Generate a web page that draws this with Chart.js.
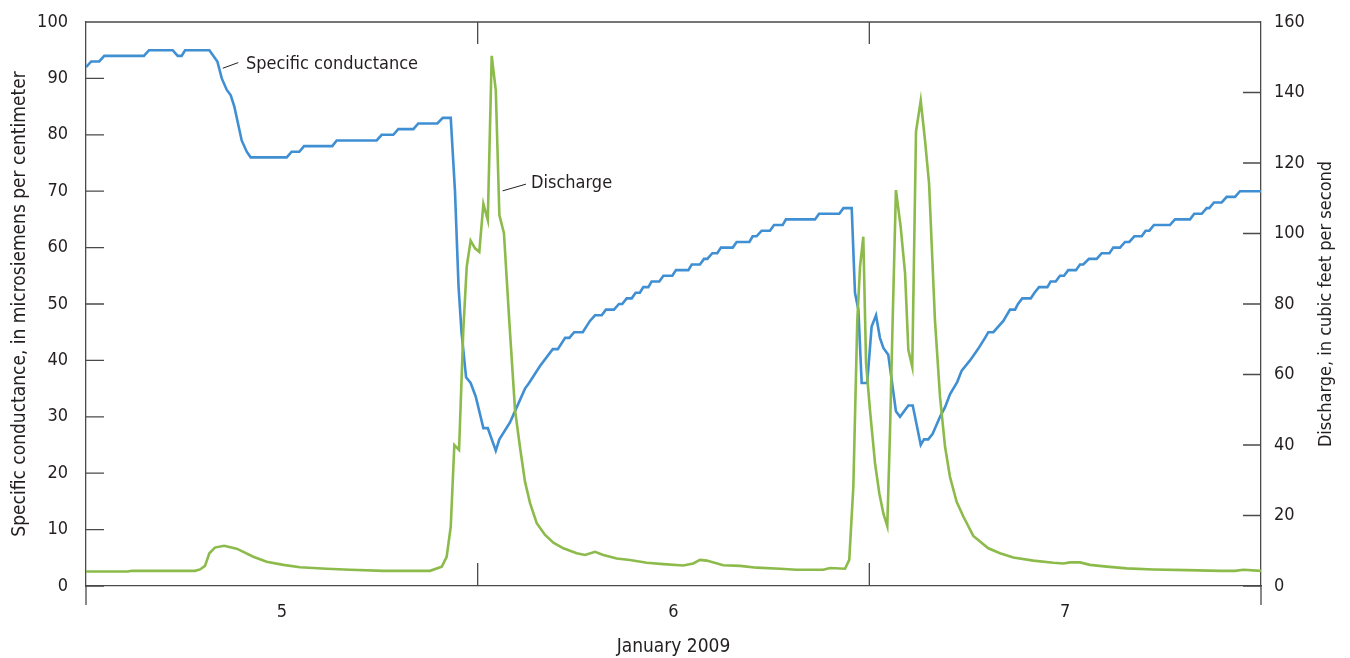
<!DOCTYPE html>
<html>
<head>
<meta charset="utf-8">
<script src="https://cdn.jsdelivr.net/npm/chart.js@4.4.1/dist/chart.umd.min.js"></script>
<style>
  html, body { margin: 0; padding: 0; background: #fff; }
  #wrap { width: 1350px; height: 658px; position: relative; }
</style>
</head>
<body>
<div id="wrap"><canvas id="chart"></canvas></div>
<script>
// hours since January 5, 2009 00:00
const condHours = [
  0.0, 0.32, 0.81, 1.12, 3.55, 3.86, 5.31, 5.62, 5.86, 6.07, 7.56, 8.05, 8.32, 8.62, 8.87, 9.09,
  9.54, 9.85, 10.09, 12.30, 12.60, 13.07, 13.36, 15.09, 15.36, 17.81, 18.12, 18.83, 19.14, 20.06,
  20.36, 21.53, 21.86, 22.35, 22.61, 22.83, 23.01, 23.29, 23.57, 23.88, 24.35, 24.62, 25.11, 25.33,
  25.98, 26.18, 26.90, 27.15, 27.82, 28.60, 28.91, 29.36, 29.62, 29.91, 30.44, 30.88, 31.19, 31.60,
  31.86, 32.35, 32.66, 32.86, 33.13, 33.44, 33.68, 33.94, 34.15, 34.46, 34.66, 35.13, 35.38, 35.93,
  36.15, 36.91, 37.12, 37.62, 37.87, 38.07, 38.38, 38.68, 38.91, 39.63, 39.87, 40.65, 40.85, 41.09,
  41.40, 41.91, 42.16, 42.69, 42.89, 44.67, 44.92, 46.16, 46.41, 46.92, 47.12, 47.33, 47.53, 47.87,
  48.14, 48.41, 48.65, 48.86, 49.16, 49.63, 49.88, 50.39, 50.66, 51.15, 51.35, 51.61, 51.88, 52.33,
  52.64, 52.94, 53.39, 53.66, 54.17, 54.66, 55.09, 55.29, 55.60, 56.21, 56.62, 56.93, 57.11, 57.37,
  57.89, 58.12, 58.40, 58.91, 59.11, 59.42, 59.68, 59.93, 60.19, 60.66, 60.91, 61.11, 61.46, 61.93,
  62.24, 62.71, 62.95, 63.36, 63.67, 63.93, 64.24, 64.69, 64.93, 65.16, 65.44, 66.42, 66.73, 67.65,
  67.91, 68.37, 68.67, 68.83, 69.12, 69.59, 69.90, 70.41, 70.71, 72.0
];
const condValues = [
  92, 93, 93, 94, 94, 95, 95, 94, 94, 95, 95, 93, 90, 88, 87, 85,
  79, 77, 76, 76, 77, 77, 78, 78, 79, 79, 80, 80, 81, 81,
  82, 82, 83, 83, 70, 53, 45, 37, 36, 33.6, 28, 28, 24, 26,
  29, 30.3, 35, 36, 39, 42, 42, 44, 44, 45, 45, 47, 48, 48,
  49, 49, 50, 50, 51, 51, 52, 52, 53, 53, 54, 54, 55, 55,
  56, 56, 57, 57, 58, 58, 59, 59, 60, 60, 61, 61, 62, 62,
  63, 63, 64, 64, 65, 65, 66, 66, 67, 67, 52, 49, 36, 36,
  46, 48, 44, 42.2, 41, 31, 30, 32, 32, 25, 26, 26, 27, 30,
  31.7, 34, 36.2, 38.2, 40, 42, 44, 45, 45, 47, 49, 49, 50, 51,
  51, 52, 53, 53, 54, 54, 55, 55, 56, 56, 57, 57, 58, 58,
  59, 59, 60, 60, 61, 61, 62, 62, 63, 63, 64, 64, 65, 65,
  66, 66, 67, 67, 68, 68, 69, 69, 70, 70
];

const flowHours = [
  0.0, 2.57, 2.82, 6.68, 6.99, 7.29, 7.56, 7.90, 8.46, 9.23, 9.64, 10.25, 11.07, 12.09, 13.11, 14.75,
  16.18, 18.22, 21.08, 21.80, 22.10, 22.35, 22.57, 22.86, 23.12, 23.33, 23.57, 23.84, 24.10, 24.35,
  24.62, 24.86, 25.11, 25.33, 25.61, 25.94, 26.29, 26.59, 26.90, 27.21, 27.62, 28.13, 28.64, 29.25,
  30.07, 30.58, 31.19, 31.70, 32.52, 33.33, 34.36, 35.38, 36.60, 37.21, 37.62, 38.03, 39.05, 40.08,
  41.10, 42.53, 43.55, 45.18, 45.59, 46.51, 46.77, 47.02, 47.26, 47.43, 47.63, 47.80, 48.04, 48.35,
  48.61, 48.86, 49.10, 49.27, 49.43, 49.63, 49.92, 50.19, 50.39, 50.63, 50.86, 51.15, 51.41, 51.66,
  52.02, 52.33, 52.64, 52.94, 53.35, 53.76, 54.37, 55.29, 56.01, 56.82, 58.05, 59.27, 59.89, 60.30,
  60.91, 61.52, 62.55, 63.77, 65.40, 67.45, 69.49, 70.41, 70.92, 72.0
];
const flowValues = [
  4.1, 4.1, 4.3, 4.3, 4.7, 5.7, 9.3, 10.9, 11.4, 10.6, 9.7, 8.3, 6.9, 6.0, 5.3, 4.9,
  4.6, 4.3, 4.3, 5.5, 8.3, 16.8, 40, 38.6, 72.6, 90.6, 98, 95.8, 94.8, 108.4,
  103.8, 150.4, 140.7, 105.2, 100.1, 75, 49.9, 39.5, 29.6, 23.5, 17.8, 14.5, 12.3, 10.7,
  9.3, 8.8, 9.7, 8.8, 7.8, 7.4, 6.6, 6.2, 5.8, 6.4, 7.4, 7.2, 5.9, 5.7,
  5.2, 4.9, 4.6, 4.6, 5.1, 4.9, 7.4, 28.2, 75, 90.6, 99.1, 63.2, 49.9, 34.8,
  26.3, 20.6, 17, 44.3, 75.5, 112.3, 101.9, 88.7, 67, 62.2, 128.9, 137.7, 126.5, 114.2,
  75.5, 53.7, 39.5, 31, 23.9, 19.7, 14.2, 10.7, 9.3, 8.1, 7.2, 6.6, 6.4, 6.7,
  6.7, 6.0, 5.5, 5.0, 4.7, 4.5, 4.3, 4.3, 4.6, 4.3
];

const dayLabels = ["5", "6", "7"];
const dayLabelHours = [12, 36, 60];
const dayBoundaryHours = [24, 48];

const BLUE = "#3f8fd2";
const GREEN = "#8cbb4b";
const AXIS_COLOR = "#4a4a4a";
const TEXT_COLOR = "#231f20";
const FONT_FAMILY = "'Liberation Sans Narrow', 'DejaVu Sans Condensed', 'Roboto', sans-serif";

const toPoints = (xs, ys) => xs.map((x, i) => ({ x: x, y: ys[i] }));

// y axes should not push the plot down for their half-height end labels
const fixAxisWidth = (width) => (scale) => {
  scale.width = width;
  scale.paddingTop = 0;
  scale.paddingBottom = 0;
};

const framePlugin = {
  id: "framePlugin",
  afterDraw: (chart) => {
    const ctx = chart.ctx;
    const area = chart.chartArea;
    const x = chart.scales.x;
    const yL = chart.scales.y;
    const yR = chart.scales.y1;

    ctx.save();
    ctx.strokeStyle = AXIS_COLOR;
    ctx.lineWidth = 1.3;
    ctx.beginPath();
    // top of the box
    ctx.moveTo(area.left, area.top);
    ctx.lineTo(area.right, area.top);
    // axis lines run past the bottom
    ctx.moveTo(area.left, area.bottom);
    ctx.lineTo(area.left, area.bottom + 19);
    ctx.moveTo(area.right, area.bottom);
    ctx.lineTo(area.right, area.bottom + 19);
    // inward ticks
    yL.ticks.forEach((t) => {
      const py = yL.getPixelForValue(t.value);
      ctx.moveTo(area.left, py);
      ctx.lineTo(area.left + 18, py);
    });
    yR.ticks.forEach((t) => {
      const py = yR.getPixelForValue(t.value);
      ctx.moveTo(area.right - 18, py);
      ctx.lineTo(area.right, py);
    });
    dayBoundaryHours.forEach((h) => {
      const px = x.getPixelForValue(h);
      ctx.moveTo(px, area.top);
      ctx.lineTo(px, area.top + 22);
      ctx.moveTo(px, area.bottom - 23);
      ctx.lineTo(px, area.bottom);
    });
    ctx.stroke();

    // labels on the lines
    ctx.lineWidth = 1;
    ctx.strokeStyle = "#231f20";
    ctx.beginPath();
    ctx.moveTo(x.getPixelForValue(8.38), yL.getPixelForValue(91.8));
    ctx.lineTo(x.getPixelForValue(9.33), yL.getPixelForValue(92.8));
    ctx.moveTo(x.getPixelForValue(25.53), yR.getPixelForValue(112.1));
    ctx.lineTo(x.getPixelForValue(26.96), yR.getPixelForValue(114));
    ctx.stroke();

    ctx.fillStyle = TEXT_COLOR;
    ctx.font = "18px " + FONT_FAMILY;
    ctx.textAlign = "left";
    ctx.textBaseline = "middle";
    ctx.fillText("Specific conductance", x.getPixelForValue(9.8), yL.getPixelForValue(92.5));
    ctx.fillText("Discharge", x.getPixelForValue(27.27), yR.getPixelForValue(114.3));

    // right axis title reads bottom to top
    ctx.translate(1326, (area.top + area.bottom) / 2);
    ctx.rotate(-Math.PI / 2);
    ctx.textAlign = "center";
    ctx.fillText("Discharge, in cubic feet per second", 0, 0);
    ctx.restore();
  },
};

new Chart(document.getElementById("chart"), {
  type: "line",
  data: {
    datasets: [
      {
        label: "Discharge",
        data: toPoints(flowHours, flowValues),
        yAxisID: "y1",
        borderColor: GREEN,
        borderWidth: 2.6,
        pointRadius: 0,
        tension: 0,
      },
      {
        label: "Specific conductance",
        data: toPoints(condHours, condValues),
        yAxisID: "y",
        borderColor: BLUE,
        borderWidth: 2.6,
        pointRadius: 0,
        tension: 0,
      },
    ],
  },
  plugins: [framePlugin],
  options: {
    responsive: true,
    maintainAspectRatio: false,
    animation: false,
    layout: { padding: { top: 22, left: 0, right: 0, bottom: 0 } },
    plugins: {
      legend: { display: false },
      tooltip: { enabled: false },
    },
    scales: {
      x: {
        type: "linear",
        min: 0,
        max: 72,
        afterBuildTicks: (scale) => {
          scale.ticks = dayLabelHours.map((h) => ({ value: h }));
        },
        afterFit: (scale) => {
          scale.height = 72;
          scale.paddingLeft = 0;
          scale.paddingRight = 0;
        },
        grid: { display: false, drawTicks: false },
        border: { display: true, color: AXIS_COLOR, width: 1.3 },
        ticks: {
          padding: 16,
          color: TEXT_COLOR,
          font: { family: FONT_FAMILY, size: 18 },
          maxRotation: 0,
          callback: (value) => dayLabels[dayLabelHours.indexOf(value)],
        },
        title: {
          display: true,
          text: "January 2009",
          color: TEXT_COLOR,
          font: { family: FONT_FAMILY, size: 19 },
          padding: { top: 0, bottom: 0 },
        },
      },
      y: {
        position: "left",
        min: 0,
        max: 100,
        afterFit: fixAxisWidth(86),
        grid: { display: false, drawTicks: false },
        border: { display: true, color: AXIS_COLOR, width: 1.3 },
        ticks: {
          stepSize: 10,
          padding: 18,
          color: TEXT_COLOR,
          font: { family: FONT_FAMILY, size: 18 },
        },
        title: {
          display: true,
          text: "Specific conductance, in microsiemens per centimeter",
          color: TEXT_COLOR,
          font: { family: FONT_FAMILY, size: 19 },
          padding: { top: 9, bottom: 0 },
        },
      },
      y1: {
        position: "right",
        min: 0,
        max: 160,
        afterFit: fixAxisWidth(89),
        grid: { display: false, drawTicks: false },
        border: { display: true, color: AXIS_COLOR, width: 1.3 },
        ticks: {
          stepSize: 20,
          padding: 13,
          color: TEXT_COLOR,
          font: { family: FONT_FAMILY, size: 18 },
        },
      },
    },
  },
});
</script>
</body>
</html>
